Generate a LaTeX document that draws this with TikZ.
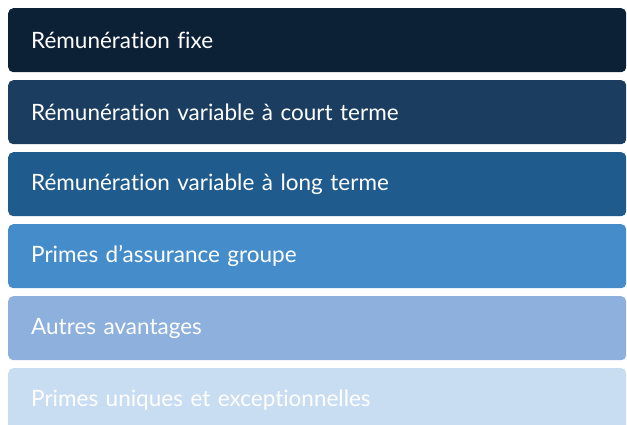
\documentclass[tikz,border=0pt]{standalone}
\usepackage{fontspec}
\setmainfont{Lato}[Ligatures=NoCommon]
\definecolor{bar1}{HTML}{0C2036}
\definecolor{bar2}{HTML}{1B3D60}
\definecolor{bar3}{HTML}{205B8E}
\definecolor{bar4}{HTML}{458CCB}
\definecolor{bar5}{HTML}{8DB0DD}
\definecolor{bar6}{HTML}{C8DDF1}
\begin{document}
\begin{tikzpicture}[x=1pt,y=-1pt]

      \useasboundingbox (0,0) rectangle (627,425);

      \begin{scope}[every node/.style={rectangle,rounded corners=5pt,anchor=north west,
          minimum width=618pt,minimum height=64pt,inner xsep=23pt,text width=572pt,
          align=left,text=white,font=\fontsize{22.5}{26}\selectfont}]
        \node[fill=bar1] (1) at (8,8)   {Rémunération fixe};
        \node[fill=bar2] (2) at (8,80)  {Rémunération variable à court terme};
        \node[fill=bar3] (3) at (8,152) {Rémunération variable à long terme};
        \node[fill=bar4] (4) at (8,224) {Primes d’assurance groupe};
        \node[fill=bar5] (5) at (8,296) {Autres avantages};
        \node[fill=bar6] (6) at (8,368) {Primes uniques et exceptionnelles};
      \end{scope}

    \end{tikzpicture}
\end{document}
